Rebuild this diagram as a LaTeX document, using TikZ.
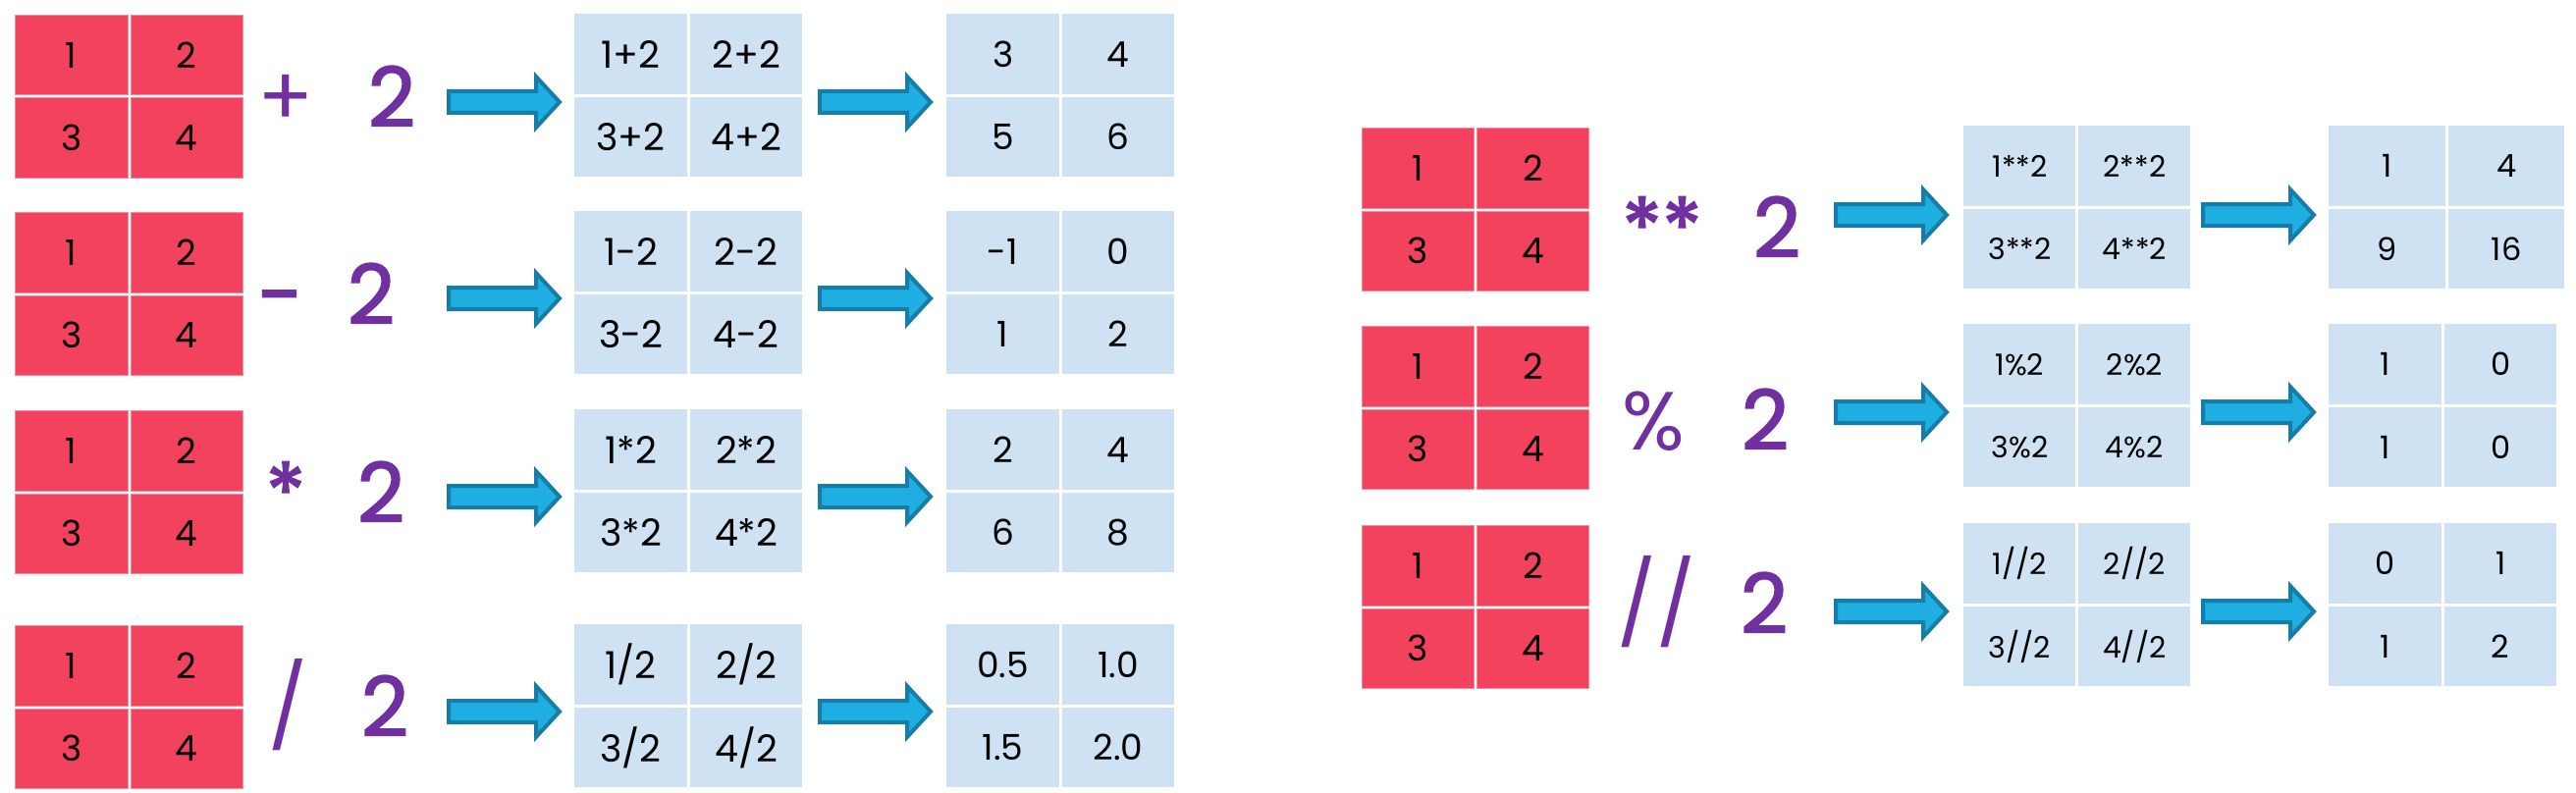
\documentclass[tikz,border=0pt]{standalone}
\usepackage{fontspec}
\setmainfont{Poppins}
\newfontfamily\opfont[FakeBold=2]{Poppins}
\definecolor{cellred}{HTML}{F3425E}
\definecolor{celledge}{HTML}{F7899B}
\definecolor{cellblue}{HTML}{CEE2F4}
\definecolor{arrowfill}{HTML}{1EAEE2}
\definecolor{arrowdraw}{HTML}{177DA6}
\definecolor{opurple}{HTML}{7030A0}
\tikzset{
  redcell/.style={fill=cellred, draw=celledge, line width=0.5pt, inner sep=0pt, font=\fontsize{18}{20}\selectfont},
  bluecell/.style={fill=cellblue, draw=none, inner sep=0pt, font=\fontsize{18}{20}\selectfont},
  midleft/.style={bluecell, font=\fontsize{19}{21}\selectfont},
  midright/.style={bluecell, font=\fontsize{15}{17}\selectfont},
  resright/.style={bluecell, font=\fontsize{16}{18}\selectfont},
  arrowshape/.style={fill=arrowfill, draw=arrowdraw, line width=2pt, line join=miter},
  opsym/.style={text=opurple, font=\fontsize{42}{44}\selectfont, inner sep=0pt, anchor=base},
  opbold/.style={opsym, font=\opfont\fontsize{42}{44}\selectfont}
}
\newcommand\cellblock[9]{%
  \pgfmathsetmacro\cbw{(#4-3)/2}%
  \pgfmathsetmacro\cbh{(166-3)/2}%
  \pgfmathsetmacro\cbwpt{\cbw*0.5}%
  \pgfmathsetmacro\cbhpt{\cbh*0.5}%
  \node[#5,minimum width=\cbwpt pt,minimum height=\cbhpt pt,anchor=north west] (#1-1) at (#2,#3) {#6};
  \node[#5,minimum width=\cbwpt pt,minimum height=\cbhpt pt,anchor=north west] (#1-2) at ({#2+\cbw+3},#3) {#7};
  \node[#5,minimum width=\cbwpt pt,minimum height=\cbhpt pt,anchor=north west] (#1-3) at (#2,{#3+\cbh+3}) {#8};
  \node[#5,minimum width=\cbwpt pt,minimum height=\cbhpt pt,anchor=north west] (#1-4) at ({#2+\cbw+3},{#3+\cbh+3}) {#9};
}
\newcommand\blockarrow[2]{% x0, yc
  \path[arrowshape] ({#1+2},{#2-11}) -- ({#1+91},{#2-11}) -- ({#1+91},{#2-26})
    -- ({#1+115},{#2}) -- ({#1+91},{#2+26}) -- ({#1+91},{#2+11}) -- ({#1+2},{#2+11}) -- cycle;
}
\begin{document}
\begin{tikzpicture}[x=0.5pt,y=-0.5pt]
\useasboundingbox (0,0) rectangle (2624,808);
\fill[white] (0,0) rectangle (2624,808);
% ---------- left column ----------
% row 1: +
\cellblock{la}{15}{15}{232}{redcell}{1}{2}{3}{4}
\node[opsym] (lao) at (291,129) {+};
\node[opbold] (lat) at (399,129) {2};
\blockarrow{455}{104}
\cellblock{lam}{585}{14}{232}{midleft}{1+2}{2+2}{3+2}{4+2}
\blockarrow{833}{104}
\cellblock{lar}{964}{14}{232}{bluecell}{3}{4}{5}{6}
% row 2: -
\cellblock{lb}{15}{216}{232}{redcell}{1}{2}{3}{4}
\node[opbold] (lbo) at (286,330) {-};
\node[opbold] (lbt) at (378,330) {2};
\blockarrow{455}{304}
\cellblock{lbm}{585}{215}{232}{midleft}{1-2}{2-2}{3-2}{4-2}
\blockarrow{833}{304}
\cellblock{lbr}{964}{215}{232}{bluecell}{-1}{0}{1}{2}
% row 3: *
\cellblock{lc}{15}{418}{232}{redcell}{1}{2}{3}{4}
\node[opbold] (lco) at (291,532) {*};
\node[opbold] (lct) at (388,532) {2};
\blockarrow{455}{506}
\cellblock{lcm}{585}{417}{232}{midleft}{1*2}{2*2}{3*2}{4*2}
\blockarrow{833}{506}
\cellblock{lcr}{964}{417}{232}{bluecell}{2}{4}{6}{8}
% row 4: /
\cellblock{ld}{15}{637}{232}{redcell}{1}{2}{3}{4}
\node[opsym] (ldo) at (293,750) {/};
\node[opbold] (ldt) at (392,750) {2};
\blockarrow{455}{725}
\cellblock{ldm}{585}{636}{232}{midleft}{1/2}{2/2}{3/2}{4/2}
\blockarrow{833}{725}
\cellblock{ldr}{964}{636}{232}{bluecell}{0.5}{1.0}{1.5}{2.0}
% ---------- right column ----------
% row 1: **
\cellblock{ra}{1387}{130}{231}{redcell}{1}{2}{3}{4}
\node[opbold] (rao) at (1693,262) {**};
\node[opbold] (rat) at (1810,262) {2};
\blockarrow{1868}{219}
\cellblock{ram}{2000}{128}{231}{midright}{1**2}{2**2}{3**2}{4**2}
\blockarrow{2242}{219}
\cellblock{rar}{2372}{128}{240}{resright}{1}{4}{9}{16}
% row 2: %
\cellblock{rb}{1387}{332}{231}{redcell}{1}{2}{3}{4}
\node[opsym] (rbo) at (1684,458) {\%};
\node[opbold] (rbt) at (1798,458) {2};
\blockarrow{1868}{420}
\cellblock{rbm}{2000}{330}{231}{midright}{1\%2}{2\%2}{3\%2}{4\%2}
\blockarrow{2242}{420}
\cellblock{rbr}{2372}{330}{232}{resright}{1}{0}{1}{0}
% row 3: //
\cellblock{rc}{1387}{535}{231}{redcell}{1}{2}{3}{4}
\node[opsym] (rco) at (1687,645) {//};
\node[opbold] (rct) at (1797,645) {2};
\blockarrow{1868}{623}
\cellblock{rcm}{2000}{533}{231}{midright}{1//2}{2//2}{3//2}{4//2}
\blockarrow{2242}{623}
\cellblock{rcr}{2372}{533}{232}{resright}{0}{1}{1}{2}
\end{tikzpicture}
\end{document}
